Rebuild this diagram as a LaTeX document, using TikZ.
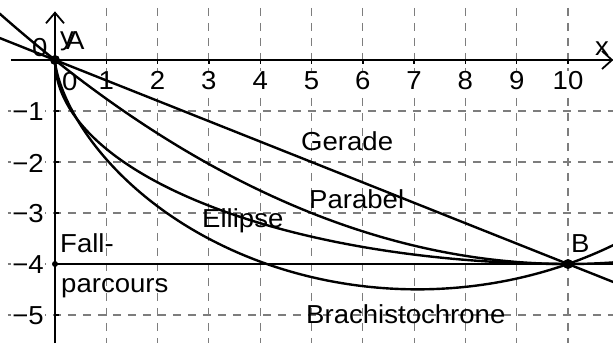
\documentclass[tikz,border=0pt]{standalone}
\usepackage{fontspec}
\setmainfont{Liberation Sans}[FakeStretch=1.06]
\definecolor{gridc}{RGB}{125,125,125}
\begin{document}
\begin{tikzpicture}[x=51.3pt,y=51pt,
  every node/.style={font=\fontsize{26}{30}\selectfont, inner sep=0pt},
  gridline/.style={draw=gridc, line width=1.1pt, dash pattern=on 8pt off 7pt},
  curve/.style={line width=2.4pt, line join=round, line cap=round},
  axisline/.style={line width=1.8pt},
  tickline/.style={line width=1.4pt},
  ticklbl/.style={fill=white, inner sep=1pt},
  txt/.style={anchor=base west},
  dot/.style={circle, fill=black, inner sep=0pt, minimum size=#1}]
\useasboundingbox (-55pt,-283pt) rectangle (558pt,60pt);
\begin{scope}
\clip (-55pt,-283pt) rectangle (558pt,60pt);
% grid
\foreach \i in {1,...,10} \draw[gridline] (\i,1.02) -- (\i,-5.55);
\foreach \j in {1,...,5} \draw[gridline] (-0.92,-\j) -- (10.88,-\j);
% axes
\draw[axisline] (-0.86,0) -- (10.858,0);
\draw[axisline, line join=miter] (10.663,0.176) -- (10.858,0) -- (10.663,-0.176);
\draw[axisline] (0,-5.55) -- (0,0.927);
\draw[axisline, line join=miter] (-0.175,0.72) -- (0,0.927) -- (0.175,0.72);
\foreach \i in {1,...,10} \draw[tickline] (\i,0) -- (\i,-0.08);
\foreach \j in {1,...,5} \draw[tickline] (0,-\j) -- (0.08,-\j);
% tick labels
\foreach \i in {1,...,10} \node[ticklbl, anchor=base] (tx\i) at (\i,-0.588) {\i};
\foreach \j in {1,...,5} \node[ticklbl, anchor=east] (ty\j) at (-0.195,-\j-0.02) {−\j};
\node[txt] (zeroa) at (7pt,-30pt) {0};
\node[txt] (zerob) at (-23pt,4pt) {0};
\node[txt] (lx) at (540pt,5pt) {x};
\node[txt] (ly) at (5pt,15pt) {y};
% curves
\draw[curve] (-1.1,0.44) -- (10.9,-4.36);
\draw[curve] plot[domain=-1.1:10.9, samples=80] (\x, {-4+0.04*(\x-10)^2});
\draw[curve] plot[domain=0:90, samples=90] ({10-10*cos(\x)}, {-4*sin(\x)});
\draw[curve] plot[domain=0:4.1, samples=160, variable=\t] ({2.2486*(\t-sin(\t r))}, {-2.2486*(1-cos(\t r))});
\draw[line width=2.8pt] (0,0) -- (0,-4) -- (10.9,-4);
\end{scope}
% points
\node[dot=10pt] (A) at (0,0) {};
\node[dot=10pt] (B) at (10,-4) {};
\node[dot=6pt] (C) at (0,-4) {};
% labels
\node[txt] (lA) at (11pt,11pt) {A};
\node[txt] (lB) at (516pt,-192pt) {B};
\node[txt] (gerade) at (246pt,-90pt) {Gerade};
\node[txt] (parabel) at (254pt,-148pt) {Parabel};
\node[txt] (ellipse) at (147pt,-167pt) {Ellipse};
\node[txt] (brach) at (251pt,-263pt) {Brachistochrone};
\node[txt] (fall) at (5pt,-192pt) {Fall-};
\node[txt] (parc) at (6pt,-232pt) {parcours};
\end{tikzpicture}
\end{document}
